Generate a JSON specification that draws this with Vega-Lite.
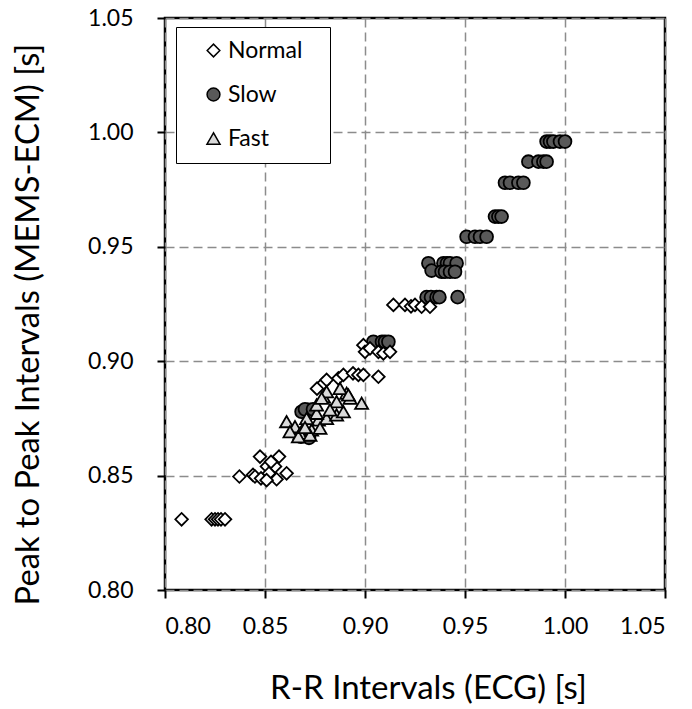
{
  "$schema": "https://vega.github.io/schema/vega-lite/v6.json",
  "width": 500,
  "height": 572,
  "autosize": {"type": "none"},
  "padding": {"left": 165, "top": 18, "right": 27, "bottom": 119},
  "background": "white",
  "config": {
    "font": "Lato",
    "view": {"stroke": "black", "strokeWidth": 2.5},
    "axis": {
      "labelFont": "Lato",
      "titleFont": "Lato",
      "labelFontSize": 23,
      "labelColor": "black",
      "titleColor": "black",
      "titleFontWeight": "normal",
      "domain": false,
      "tickColor": "black",
      "tickWidth": 2,
      "tickSize": 8,
      "grid": true,
      "gridColor": "#8c8c8c",
      "gridWidth": 1.5,
      "gridDash": [9, 5]
    },
    "legend": {
      "labelFont": "Lato",
      "labelFontSize": 23,
      "labelColor": "black"
    }
  },
  "data": {
    "values": [
      {"g": "Slow", "x": 0.8683, "y": 0.8779},
      {"g": "Slow", "x": 0.8717, "y": 0.8787},
      {"g": "Slow", "x": 0.8700, "y": 0.8790},
      {"g": "Slow", "x": 0.8740, "y": 0.8790},
      {"g": "Slow", "x": 0.8680, "y": 0.8670},
      {"g": "Slow", "x": 0.8720, "y": 0.8665},
      {"g": "Slow", "x": 0.9042, "y": 0.9085},
      {"g": "Slow", "x": 0.9085, "y": 0.9085},
      {"g": "Slow", "x": 0.9100, "y": 0.9085},
      {"g": "Slow", "x": 0.9117, "y": 0.9085},
      {"g": "Slow", "x": 0.9308, "y": 0.9280},
      {"g": "Slow", "x": 0.9330, "y": 0.9280},
      {"g": "Slow", "x": 0.9358, "y": 0.9280},
      {"g": "Slow", "x": 0.9372, "y": 0.9280},
      {"g": "Slow", "x": 0.9463, "y": 0.9280},
      {"g": "Slow", "x": 0.9317, "y": 0.9428},
      {"g": "Slow", "x": 0.9392, "y": 0.9428},
      {"g": "Slow", "x": 0.9410, "y": 0.9428},
      {"g": "Slow", "x": 0.9425, "y": 0.9428},
      {"g": "Slow", "x": 0.9458, "y": 0.9428},
      {"g": "Slow", "x": 0.9333, "y": 0.9396},
      {"g": "Slow", "x": 0.9383, "y": 0.9391},
      {"g": "Slow", "x": 0.9400, "y": 0.9391},
      {"g": "Slow", "x": 0.9425, "y": 0.9391},
      {"g": "Slow", "x": 0.9450, "y": 0.9391},
      {"g": "Slow", "x": 0.9508, "y": 0.9544},
      {"g": "Slow", "x": 0.9550, "y": 0.9544},
      {"g": "Slow", "x": 0.9575, "y": 0.9544},
      {"g": "Slow", "x": 0.9608, "y": 0.9544},
      {"g": "Slow", "x": 0.9650, "y": 0.9632},
      {"g": "Slow", "x": 0.9667, "y": 0.9632},
      {"g": "Slow", "x": 0.9683, "y": 0.9632},
      {"g": "Slow", "x": 0.9700, "y": 0.9780},
      {"g": "Slow", "x": 0.9725, "y": 0.9780},
      {"g": "Slow", "x": 0.9767, "y": 0.9780},
      {"g": "Slow", "x": 0.9792, "y": 0.9780},
      {"g": "Slow", "x": 0.9817, "y": 0.9872},
      {"g": "Slow", "x": 0.9867, "y": 0.9872},
      {"g": "Slow", "x": 0.9892, "y": 0.9872},
      {"g": "Slow", "x": 0.9908, "y": 0.9872},
      {"g": "Slow", "x": 0.9908, "y": 0.9960},
      {"g": "Slow", "x": 0.9925, "y": 0.9960},
      {"g": "Slow", "x": 0.9942, "y": 0.9960},
      {"g": "Slow", "x": 0.9975, "y": 0.9960},
      {"g": "Slow", "x": 1.0000, "y": 0.9960},
      {"g": "Normal", "x": 0.8083, "y": 0.8309},
      {"g": "Normal", "x": 0.8233, "y": 0.8309},
      {"g": "Normal", "x": 0.8250, "y": 0.8309},
      {"g": "Normal", "x": 0.8265, "y": 0.8309},
      {"g": "Normal", "x": 0.8280, "y": 0.8309},
      {"g": "Normal", "x": 0.8300, "y": 0.8309},
      {"g": "Normal", "x": 0.8372, "y": 0.8496},
      {"g": "Normal", "x": 0.8440, "y": 0.8503},
      {"g": "Normal", "x": 0.8450, "y": 0.8496},
      {"g": "Normal", "x": 0.8480, "y": 0.8488},
      {"g": "Normal", "x": 0.8475, "y": 0.8583},
      {"g": "Normal", "x": 0.8570, "y": 0.8583},
      {"g": "Normal", "x": 0.8510, "y": 0.8540},
      {"g": "Normal", "x": 0.8550, "y": 0.8540},
      {"g": "Normal", "x": 0.8520, "y": 0.8510},
      {"g": "Normal", "x": 0.8608, "y": 0.8510},
      {"g": "Normal", "x": 0.8558, "y": 0.8484},
      {"g": "Normal", "x": 0.8508, "y": 0.8480},
      {"g": "Normal", "x": 0.8530, "y": 0.8560},
      {"g": "Normal", "x": 0.8792, "y": 0.8903},
      {"g": "Normal", "x": 0.8808, "y": 0.8918},
      {"g": "Normal", "x": 0.8867, "y": 0.8925},
      {"g": "Normal", "x": 0.8892, "y": 0.8940},
      {"g": "Normal", "x": 0.8940, "y": 0.8947},
      {"g": "Normal", "x": 0.8967, "y": 0.8940},
      {"g": "Normal", "x": 0.8992, "y": 0.8940},
      {"g": "Normal", "x": 0.9067, "y": 0.8932},
      {"g": "Normal", "x": 0.8760, "y": 0.8880},
      {"g": "Normal", "x": 0.8992, "y": 0.9070},
      {"g": "Normal", "x": 0.9000, "y": 0.9041},
      {"g": "Normal", "x": 0.9025, "y": 0.9056},
      {"g": "Normal", "x": 0.9067, "y": 0.9041},
      {"g": "Normal", "x": 0.9092, "y": 0.9034},
      {"g": "Normal", "x": 0.9125, "y": 0.9041},
      {"g": "Normal", "x": 0.9142, "y": 0.9246},
      {"g": "Normal", "x": 0.9200, "y": 0.9246},
      {"g": "Normal", "x": 0.9230, "y": 0.9240},
      {"g": "Normal", "x": 0.9250, "y": 0.9246},
      {"g": "Normal", "x": 0.9283, "y": 0.9238},
      {"g": "Normal", "x": 0.9325, "y": 0.9238},
      {"g": "Fast", "x": 0.8608, "y": 0.8736},
      {"g": "Fast", "x": 0.8650, "y": 0.8714},
      {"g": "Fast", "x": 0.8692, "y": 0.8707},
      {"g": "Fast", "x": 0.8675, "y": 0.8685},
      {"g": "Fast", "x": 0.8733, "y": 0.8700},
      {"g": "Fast", "x": 0.8767, "y": 0.8743},
      {"g": "Fast", "x": 0.8808, "y": 0.8750},
      {"g": "Fast", "x": 0.8858, "y": 0.8765},
      {"g": "Fast", "x": 0.8892, "y": 0.8779},
      {"g": "Fast", "x": 0.8792, "y": 0.8845},
      {"g": "Fast", "x": 0.8858, "y": 0.8823},
      {"g": "Fast", "x": 0.8908, "y": 0.8860},
      {"g": "Fast", "x": 0.8875, "y": 0.8881},
      {"g": "Fast", "x": 0.8983, "y": 0.8816},
      {"g": "Fast", "x": 0.8808, "y": 0.8867},
      {"g": "Fast", "x": 0.8758, "y": 0.8772},
      {"g": "Fast", "x": 0.8708, "y": 0.8750},
      {"g": "Fast", "x": 0.8625, "y": 0.8692},
      {"g": "Fast", "x": 0.8775, "y": 0.8707},
      {"g": "Fast", "x": 0.8825, "y": 0.8787},
      {"g": "Fast", "x": 0.8925, "y": 0.8838},
      {"g": "Fast", "x": 0.8758, "y": 0.8809},
      {"g": "Fast", "x": 0.8725, "y": 0.8677},
      {"g": "Fast", "x": 0.8667, "y": 0.8670},
      {"g": "Fast", "x": 0.8917, "y": 0.8852},
      {"g": "Fast", "x": 0.8783, "y": 0.8838},
      {"g": "Fast", "x": 0.8700, "y": 0.8710}
    ]
  },
  "mark": {"type": "point", "filled": true, "stroke": "black", "strokeWidth": 1.8, "opacity": 1},
  "encoding": {
    "x": {
      "field": "x", "type": "quantitative",
      "scale": {"domain": [0.8, 1.05], "nice": false, "zero": false},
      "axis": {"values": [0.8, 0.85, 0.9, 0.95, 1.0, 1.05], "format": ".2f", "title": "R-R Intervals (ECG) [s]", "titleFontSize": 33, "titleX": 263, "titleAnchor": "middle", "labelPadding": 17, "titlePadding": 34}
    },
    "y": {
      "field": "y", "type": "quantitative",
      "scale": {"domain": [0.8, 1.05], "nice": false, "zero": false},
      "axis": {"values": [0.8, 0.85, 0.9, 0.95, 1.0, 1.05], "format": ".2f", "title": "Peak to Peak Intervals (MEMS-ECM) [s]", "titleFontSize": 32.7, "titleY": 306, "titleAnchor": "middle", "labelPadding": 24, "titlePadding": 42}
    },
    "fill": {
      "field": "g", "type": "nominal",
      "scale": {"domain": ["Normal", "Slow", "Fast"], "range": ["white", "#595959", "#d9d9d9"]},
      "legend": {"title": "\u00a0", "titleOrient": "right", "titlePadding": 16, "orient": "none", "legendX": 11, "legendY": 9, "strokeColor": "black", "fillColor": "white", "padding": 12, "symbolOffset": 14, "labelOffset": 3, "rowPadding": 20, "encode": {"symbols": {"update": {"stroke": {"value": "black"}, "strokeWidth": {"value": 1.8}}}}}
    },
    "shape": {
      "field": "g", "type": "nominal",
      "scale": {"domain": ["Normal", "Slow", "Fast"], "range": ["diamond", "circle", "triangle-up"]},
      "legend": {"title": "\u00a0", "titleOrient": "right", "titlePadding": 16, "orient": "none", "legendX": 11, "legendY": 9, "strokeColor": "black", "fillColor": "white", "padding": 12, "symbolOffset": 14, "labelOffset": 3, "rowPadding": 20, "encode": {"symbols": {"update": {"stroke": {"value": "black"}, "strokeWidth": {"value": 1.8}}}}}
    },
    "size": {
      "field": "g", "type": "nominal",
      "scale": {"domain": ["Normal", "Slow", "Fast"], "range": [160, 170, 230]},
      "legend": {"title": "\u00a0", "titleOrient": "right", "titlePadding": 16, "orient": "none", "legendX": 11, "legendY": 9, "strokeColor": "black", "fillColor": "white", "padding": 12, "symbolOffset": 14, "labelOffset": 3, "rowPadding": 20, "encode": {"symbols": {"update": {"stroke": {"value": "black"}, "strokeWidth": {"value": 1.8}}}}}
    }
  }
}
